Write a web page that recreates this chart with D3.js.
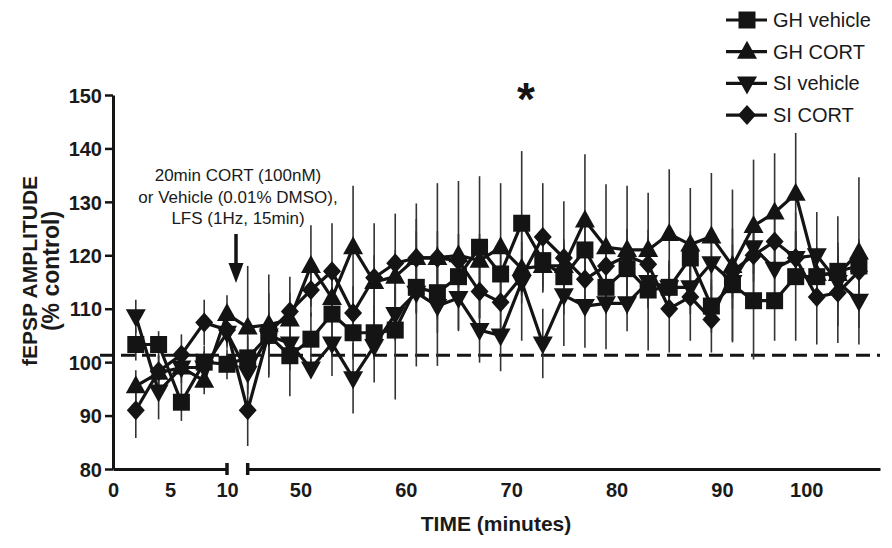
<!DOCTYPE html>
<html lang="en">
<head>
    <meta charset="UTF-8">
    <title>fEPSP amplitude</title>
    <script src="https://d3js.org/d3.v7.min.js"></script>
    <style>
        body { margin: 0; background: #fff; }
        svg { display: block; font-family: "Liberation Sans", Arial, sans-serif; }
        .tick-label { font: bold 20px "Liberation Sans", Arial, sans-serif; fill: #1a1a1a; }
        .axis-title { font: bold 21px "Liberation Sans", Arial, sans-serif; fill: #1a1a1a; }
        .legend-text { font: 20px "Liberation Sans", Arial, sans-serif; fill: #1a1a1a; }
        .note { font: 17px "Liberation Sans", Arial, sans-serif; fill: #1a1a1a; }
    </style>
</head>
<body>
    <svg width="892" height="548"></svg>
    <script>
        // sample times (minutes); baseline before the break, recording after it
        const times = [2, 4, 6, 8, 10,
            45, 47, 49, 51, 53, 55, 57, 59, 61, 63, 65, 67, 69, 71, 73,
            75, 77, 79, 81, 83, 85, 87, 89, 91, 93, 95, 97, 99, 101, 103];

        const seriesNames = ["GH vehicle", "GH CORT", "SI vehicle", "SI CORT"];

        const ghVehicle = [103.3, 103.3, 92.5, 100, 99.6,
            100.8, 105, 101.2, 104.3, 109, 105.5, 105.5, 106, 114, 113, 116, 121.5, 116.5, 126, 119,
            116, 121, 114, 117.5, 113.5, 114, 119.5, 110.5, 114.5, 111.5, 111.5, 116, 116, 117, 118];
        const ghCort = [95.5, 98, 99, 96.5, 109,
            106.5, 107, 108, 118, 112, 121.5, 115, 116, 119.5, 119.5, 120, 119, 121.5, 117.5, 118,
            118, 126.5, 121.5, 121, 121, 124, 122, 123.5, 118, 125.5, 128, 131.5, 116.5, 116.5, 120.5];
        const siVehicle = [108.6, 94.5, 99, 99, 105.5,
            98, 105, 103.5, 98.8, 103.5, 97, 103, 109, 113, 110.5, 112, 106, 105, 115, 103.5,
            112.5, 110.5, 111, 111, 115, 114, 114, 118.5, 115, 121.5, 117.5, 119.5, 120, 115, 111.5];
        const siCort = [91, 98.3, 101.4, 107.4, 106,
            91, 105.5, 109.5, 113.5, 117, 109.2, 115.8, 118.5, 119.5, 119.5, 119, 113.2, 111.2, 116, 123.4,
            119.5, 115.5, 118, 119.9, 118.3, 110, 112.2, 108, 117, 120, 122.6, 119.5, 112.2, 113, 117];

        // SEM
        const ghVehicleErr = [3, 2.5, 3.5, 3, 2.8,
            4, 7.9, 7.6, 5, 5, 5, 5, 13, 5, 5, 5, 13.3, 5, 13.5, 5,
            5, 5, 5, 5, 11.3, 5, 5, 5, 10.5, 11, 7.5, 12, 5, 10.3, 5];
        const ghCortErr = [3, 3, 3, 2.5, 3.5,
            11.5, 9.4, 5, 7.6, 5, 11.5, 5, 5, 5, 14, 13.9, 5, 12, 5, 5,
            5, 12.4, 11.8, 12, 10.7, 12.1, 10.6, 11.9, 14.3, 12.4, 11.1, 11.4, 5, 5, 14.1];
        const siVehicleErr = [3.1, 5.2, 3, 3, 3,
            4, 4, 5, 1.8, 6.1, 6.6, 6.8, 5, 13.8, 11.2, 6.2, 6.1, 6.7, 11, 6.5,
            9.5, 7.8, 8.6, 5.2, 5, 5, 5, 5, 5, 5, 5, 5, 8.1, 5, 8.2];
        const siCortErr = [5.2, 3, 3.8, 4.3, 3,
            6.7, 4, 6.5, 5, 9, 5, 10.2, 9.3, 10.2, 5, 5, 5, 5, 5, 10.1,
            10.6, 5, 5, 5, 5, 8.2, 8.2, 6.2, 5, 5, 5, 5, 8.9, 9.4, 5];

        const yTicks = [80, 90, 100, 110, 120, 130, 140, 150];
        const xTicksLeft = [0, 5, 10];
        const xTickLabelsRight = ["50", "60", "70", "80", "90", "100"];
        const xTickTimesRight = [50, 60, 70, 80, 90, 98]; // "100" sits left of its true spot in the original
        const controlLevel = 101.3;

        const svg = d3.select("svg");
        const ink = "#141414";

        const y = d3.scaleLinear().domain([80, 150]).range([469, 95]);
        const xLeft = d3.scaleLinear().domain([0, 10]).range([113, 227]);
        const xRight = d3.scaleLinear().domain([45, 105]).range([247.7, 880]);
        const x = t => t <= 10 ? xLeft(t) : xRight(t);

        const series = [
            {name: seriesNames[0], values: ghVehicle, err: ghVehicleErr, shape: "square"},
            {name: seriesNames[1], values: ghCort, err: ghCortErr, shape: "up"},
            {name: seriesNames[2], values: siVehicle, err: siVehicleErr, shape: "down"},
            {name: seriesNames[3], values: siCort, err: siCortErr, shape: "diamond"}
        ];

        function markerPath(shape) {
            if (shape === "square") return "M-8.5,-8.5H8.5V8.5H-8.5Z";
            if (shape === "up") return "M0,-11L10,7H-10Z";
            if (shape === "down") return "M0,11L10,-7H-10Z";
            return "M0,-10L9,0L0,10L-9,0Z";
        }

        // dashed control line
        svg.append("line")
            .attr("x1", 100).attr("x2", 880)
            .attr("y1", y(controlLevel)).attr("y2", y(controlLevel))
            .attr("stroke", ink).attr("stroke-width", 3)
            .attr("stroke-dasharray", "14,7");

        // error bars
        const eb = svg.append("g");
        series.forEach(s => {
            eb.selectAll(null).data(times).enter().append("line")
                .attr("x1", (t) => x(t)).attr("x2", (t) => x(t))
                .attr("y1", (t, i) => y(s.values[i] + s.err[i]))
                .attr("y2", (t, i) => y(s.values[i] - s.err[i]))
                .attr("stroke", "#333").attr("stroke-width", 1.6);
        });

        // lines
        const line = d3.line().x(d => x(d[0])).y(d => y(d[1]));
        series.forEach(s => {
            svg.append("path")
                .datum(times.map((t, i) => [t, s.values[i]]))
                .attr("d", line)
                .attr("fill", "none")
                .attr("stroke", ink)
                .attr("stroke-width", 3.2)
                .attr("stroke-linejoin", "round");
        });

        // markers
        series.forEach(s => {
            svg.append("g").selectAll("path")
                .data(times.map((t, i) => [t, s.values[i]]))
                .enter().append("path")
                .attr("d", markerPath(s.shape))
                .attr("transform", d => `translate(${x(d[0])},${y(d[1])})`)
                .attr("fill", ink);
        });

        // y axis
        const yAxis = svg.append("g")
            .attr("transform", "translate(113,0)")
            .call(d3.axisLeft(y).tickValues(yTicks).tickSize(8).tickSizeOuter(0).tickPadding(3));
        yAxis.select(".domain").attr("stroke", ink).attr("stroke-width", 3);
        yAxis.selectAll(".tick line").attr("stroke", ink).attr("stroke-width", 2.5);
        yAxis.selectAll(".tick text").attr("class", "tick-label").attr("dy", "0.36em");

        // x axis, broken in two segments
        const axisY = y(80);
        const xaL = svg.append("g")
            .attr("transform", `translate(0,${axisY})`)
            .call(d3.axisBottom(xLeft).tickValues(xTicksLeft).tickSize(0).tickSizeOuter(0).tickPadding(14));
        const xaR = svg.append("g")
            .attr("transform", `translate(0,${axisY})`)
            .call(d3.axisBottom(xRight).tickValues(xTickTimesRight)
                .tickFormat((d, i) => xTickLabelsRight[i])
                .tickSize(0).tickSizeOuter(0).tickPadding(14));
        [xaL, xaR].forEach(a => {
            a.select(".domain").attr("stroke", ink).attr("stroke-width", 3);
            a.selectAll(".tick text").attr("class", "tick-label").attr("dy", "0.71em");
        });
        [xLeft(10), xRight(45)].forEach(px => {
            svg.append("line")
                .attr("x1", px).attr("x2", px)
                .attr("y1", axisY - 6).attr("y2", axisY + 6)
                .attr("stroke", ink).attr("stroke-width", 3.5);
        });

        // axis titles
        svg.append("text").attr("class", "axis-title")
            .attr("x", 496).attr("y", 531).attr("text-anchor", "middle")
            .text("TIME (minutes)");
        const yt = svg.append("text").attr("class", "axis-title")
            .attr("transform", "translate(37,271) rotate(-90)")
            .attr("text-anchor", "middle");
        yt.append("tspan").attr("x", 0).attr("dy", 0).text("fEPSP AMPLITUDE");
        yt.append("tspan").attr("x", 0).attr("dy", 22).style("font-size", "23px").text("(% control)");

        // annotation + arrow
        const note = ["20min CORT (100nM)", "or Vehicle (0.01% DMSO),", "LFS (1Hz, 15min)"];
        svg.append("text").attr("class", "note").attr("text-anchor", "middle")
            .selectAll("tspan").data(note).enter().append("tspan")
            .attr("x", 238).attr("y", (d, i) => 181 + i * 21.7).text(d => d);
        svg.append("line").attr("x1", 236).attr("x2", 236).attr("y1", 234).attr("y2", 266)
            .attr("stroke", ink).attr("stroke-width", 3.5);
        svg.append("path").attr("d", "M228.5,263L243.5,263L236,283Z").attr("fill", ink);

        // significance
        svg.append("text").attr("x", 526).attr("y", 115)
            .attr("text-anchor", "middle")
            .style("font", "bold 46px 'Liberation Sans', Arial, sans-serif")
            .attr("fill", ink).text("*");

        // legend
        const legend = svg.append("g");
        series.forEach((s, i) => {
            const ly = 20 + i * 31.7;
            legend.append("line").attr("x1", 726).attr("x2", 767).attr("y1", ly).attr("y2", ly)
                .attr("stroke", ink).attr("stroke-width", 3.2);
            legend.append("path").attr("d", markerPath(s.shape))
                .attr("transform", `translate(747,${ly})`).attr("fill", ink);
            legend.append("text").attr("class", "legend-text")
                .attr("x", 773).attr("y", ly + 7).text(s.name);
        });
    </script>
</body>
</html>
